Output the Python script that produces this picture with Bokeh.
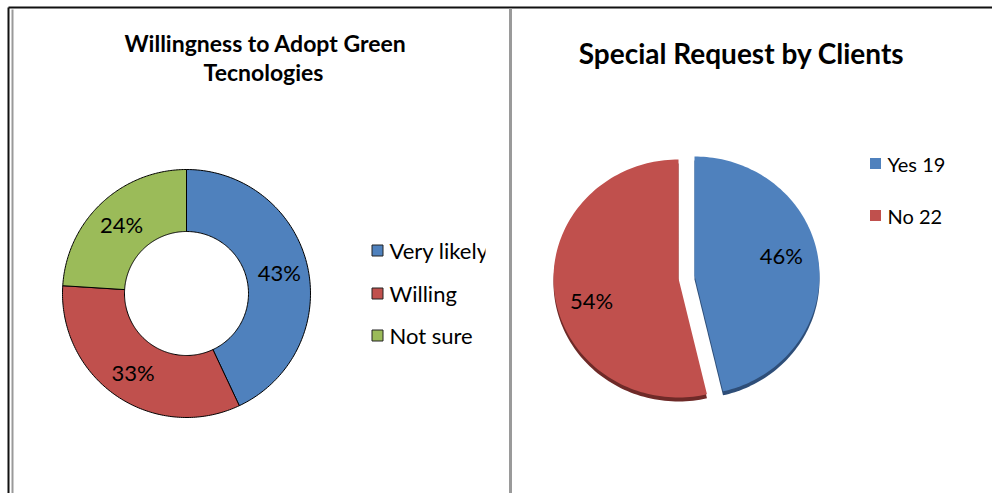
import numpy as np
from bokeh.plotting import figure
from bokeh.models import Range1d
from bokeh.embed import file_html
from bokeh.resources import INLINE
from bokeh.core.properties import value

# ---- data ----
adopt_title = ["Willingness to Adopt Green", "Tecnologies"]
adopt_labels = ["Very likely", "Willing", "Not sure"]
adopt_pct = [43, 33, 24]
adopt_colors = ["#4F81BD", "#C0504D", "#9BBB59"]

request_title = "Special Request by Clients"
request_labels = ["Yes", "No"]
request_counts = [19, 22]
request_colors = ["#4F81BD", "#C0504D"]
request_dark = ["#2E4E78", "#6E2A28"]

W, H = 992, 493
FONT = value("Lato")

p = figure(width=W, height=H, output_backend="svg", toolbar_location=None,
           x_range=Range1d(0, W), y_range=Range1d(H, 0),
           x_axis_type=None, y_axis_type=None, min_border=0)
p.grid.visible = False
p.outline_line_color = None
p.background_fill_color = "white"
p.border_fill_color = "white"


def arc(cx, cy, rx, ry, t0, t1, n=120):
    """Points along an arc; angles in degrees clockwise from 12 o'clock."""
    t = np.radians(np.linspace(t0, t1, n))
    return cx + rx * np.sin(t), cy - ry * np.cos(t)


# ---- page frame ----
p.segment(x0=[8], y0=[7], x1=[W], y1=[7], line_color="#111111", line_width=2)
p.segment(x0=[8], y0=[7], x1=[8], y1=[H], line_color="#111111", line_width=2)
p.segment(x0=[12], y0=[9], x1=[12], y1=[H], line_color="#999999", line_width=2)
p.segment(x0=[510], y0=[8], x1=[510], y1=[H], line_color="#9a9a9a", line_width=3)

# ---- left: doughnut ----
cx, cy, r_out, r_in = 186, 293, 124, 62
tot = sum(adopt_pct)
start = 0.0
xs, ys, lx, ly = [], [], [], []
for v in adopt_pct:
    span = 360.0 * v / tot
    ox, oy = arc(cx, cy, r_out, r_out, start, start + span)
    ix, iy = arc(cx, cy, r_in, r_in, start + span, start)
    xs.append(np.concatenate([ox, ix]))
    ys.append(np.concatenate([oy, iy]))
    mid = np.radians(start + span / 2)
    rm = (r_out + r_in) / 2 + 2
    lx.append(cx + rm * np.sin(mid))
    ly.append(cy - rm * np.cos(mid))
    start += span
p.patches(xs=xs, ys=ys, fill_color=adopt_colors, line_color="#000000", line_width=1)
p.text(x=lx, y=ly, text=[f"{v}%" for v in adopt_pct], text_font=FONT,
       text_font_size="22px", text_align="center", text_baseline="middle",
       text_color="#000000")

p.text(x=[265, 263], y=[42, 71], text=adopt_title, text_font=FONT,
       text_font_size="23px", text_font_style="bold", text_align="center",
       text_baseline="middle", text_color="#000000")

leg_y = [250, 293, 335]
p.rect(x=[377] * 3, y=leg_y, width=11, height=11, fill_color=adopt_colors,
       line_color="#222222", line_width=1)
p.text(x=[389] * 3, y=leg_y, text=adopt_labels, text_font=FONT,
       text_font_size="22px", text_align="left", text_baseline="middle",
       text_color="#000000")
# chart area edge trims the legend text
p.quad(left=[485], right=[508], top=[232], bottom=[268], fill_color="white",
       line_color=None)

# ---- right: exploded pie ----
pcx, pcy, rx, ry, depth = 678, 278, 125, 119, 4
rtot = sum(request_counts)
offsets = [(16, -3), (0, 0)]
label_dy = [-10, 12]
start = 0.0
slices = []
for v, off in zip(request_counts, offsets):
    span = 360.0 * v / rtot
    ax, ay = arc(pcx + off[0], pcy + off[1], rx, ry, start, start + span)
    sx = np.concatenate([[pcx + off[0]], ax])
    sy = np.concatenate([[pcy + off[1]], ay])
    slices.append((sx, sy, start, span, off))
    start += span

# dark rim below each slice gives the tilted look
p.patches(xs=[s[0] for s in slices], ys=[s[1] + depth for s in slices],
          fill_color=request_dark, line_color=None)
p.patches(xs=[s[0] for s in slices], ys=[s[1] for s in slices],
          fill_color=request_colors, line_color=None)

plx, ply = [], []
for (sx, sy, s0, span, off), dy in zip(slices, label_dy):
    mid = np.radians(s0 + span / 2)
    plx.append(pcx + off[0] + 0.70 * rx * np.sin(mid))
    ply.append(pcy + off[1] - 0.70 * ry * np.cos(mid) + dy)
pcts = [round(100 * v / rtot) for v in request_counts]
p.text(x=plx, y=ply, text=[f"{v}%" for v in pcts], text_font=FONT,
       text_font_size="22px", text_align="center", text_baseline="middle",
       text_color="#000000")

p.text(x=[741], y=[52], text=[request_title], text_font=FONT,
       text_font_size="28px", text_font_style="bold", text_align="center",
       text_baseline="middle", text_color="#000000")

rleg_y = [163, 215]
p.rect(x=[875] * 2, y=rleg_y, width=11, height=11, fill_color=request_colors,
       line_color=None)
p.text(x=[887] * 2, y=rleg_y,
       text=[f"{l} {c}" for l, c in zip(request_labels, request_counts)],
       text_font=FONT, text_font_size="20px", text_align="left",
       text_baseline="middle", text_color="#000000")

open("out.html", "w").write(file_html(p, INLINE))
